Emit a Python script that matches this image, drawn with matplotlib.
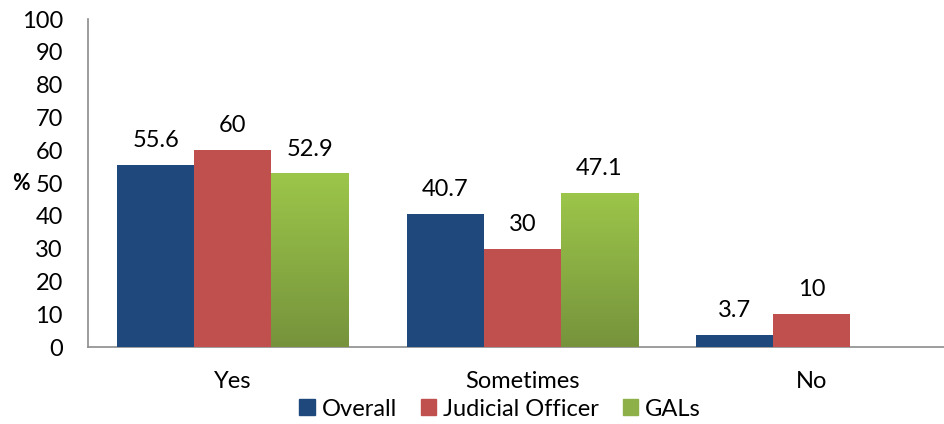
import matplotlib
matplotlib.use("Agg")
import matplotlib.pyplot as plt
import numpy as np
from matplotlib.colors import LinearSegmentedColormap

categories = ["Yes", "Sometimes", "No"]
series_names = ["Overall", "Judicial Officer", "GALs"]
overall = [55.6, 40.7, 3.7]
judicial = [60, 30, 10]
gals = [52.9, 47.1, 0]
values = [overall, judicial, gals]
yticks = [0, 10, 20, 30, 40, 50, 60, 70, 80, 90, 100]

colors = ["#1F497D", "#C0504D", "#9BBB59"]

plt.rcParams['font.family'] = ['Lato', 'DejaVu Sans']
FS = 17

fig = plt.figure(figsize=(9.45, 4.24), dpi=100)
ax = fig.add_axes([88/945, (424-347)/424, 868.5/945, (347-19)/424])

x = np.arange(len(categories))
w = 0.266
offsets = [-w, 0, w]
green_cmap = LinearSegmentedColormap.from_list("g", ["#76933C", "#9CC64A"])

for i, (name, vals, col) in enumerate(zip(series_names, values, colors)):
    xs = x + offsets[i]
    bars = ax.bar(xs, vals, width=w, color=col, label=name, zorder=3,
                  edgecolor='none')
    for b, v, xx in zip(bars, vals, xs):
        if v <= 0:
            continue
        if i == 2:
            grad = np.linspace(0, 1, 256).reshape(-1, 1)
            im = ax.imshow(grad, cmap=green_cmap, aspect='auto', origin='lower',
                           extent=[b.get_x(), b.get_x() + b.get_width(), 0, v],
                           zorder=3.5)
            im.set_clip_path(b)
        lbl = f"{v:g}"
        ax.annotate(lbl, (xx, v), xytext=(0, 10), textcoords='offset points',
                    ha='center', va='bottom', fontsize=FS, color='black')

ax.set_xlim(-0.5, 2.5)
ax.set_ylim(0, 100)
ax.set_yticks(yticks)
ax.set_yticklabels([str(t) for t in yticks], fontsize=FS)
ax.set_xticks(x)
ax.set_xticklabels(categories, fontsize=FS)
ax.tick_params(axis='y', length=0, pad=18)
ax.tick_params(axis='x', length=0, pad=17)
for s in ['top', 'right']:
    ax.spines[s].set_visible(False)
for s in ['left', 'bottom']:
    ax.spines[s].set_color('#8C8C8C')
    ax.spines[s].set_linewidth(1.2)
ax.set_zorder(1)

fig.text(21/945, 1 - 184/424, "%", fontsize=FS - 1.5, fontweight='bold', ha='center', va='center')

handles = [plt.Rectangle((0, 0), 1, 1, color=c) for c in ["#1F497D", "#C0504D", "#8DB048"]]
fig.legend(handles, series_names, loc='center', bbox_to_anchor=(500/945, 1 - 409/424),
           ncol=3, frameon=False, fontsize=FS, handlelength=0.65, handleheight=0.65,
           handletextpad=0.3, columnspacing=1.0, borderpad=0)

fig.savefig("out.png", dpi=100)
